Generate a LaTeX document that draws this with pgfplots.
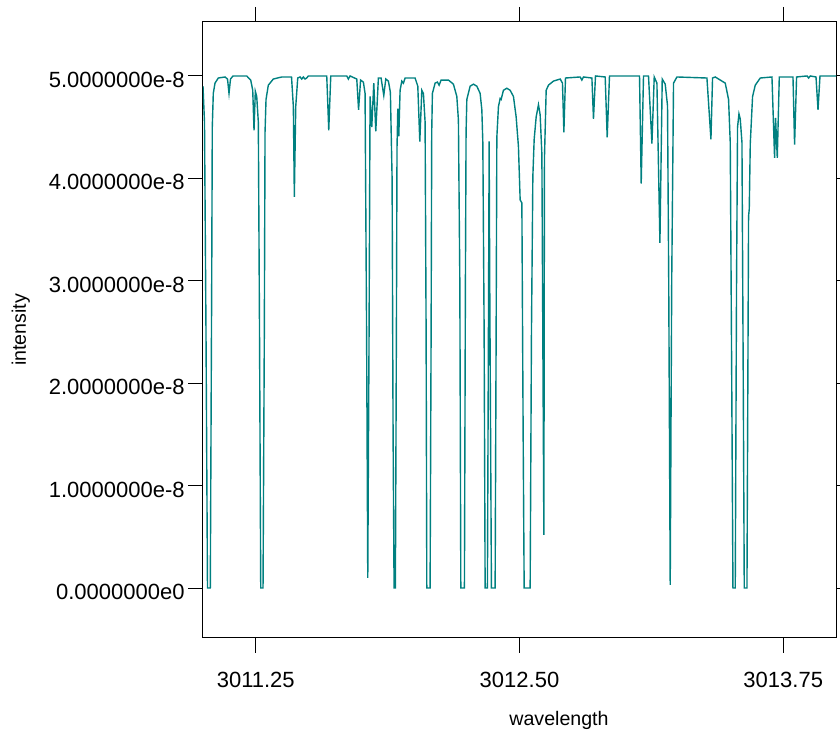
\documentclass[border=0pt]{standalone}
\usepackage{fontspec}
\setmainfont{Liberation Sans}
\usepackage{pgfplots}
\pgfplotsset{compat=1.18}
\definecolor{spec}{RGB}{0,128,128}
\begin{document}
\begin{tikzpicture}
\begin{axis}[
  scale only axis,
  width=316.5pt, height=308pt,
  xmin=3011, xmax=3014,
  ymin=-0.488e-8, ymax=5.527e-8,
  axis line style={black, line width=0.5pt},
  tick align=outside,
  major tick length=7.5pt,
  tick style={black, line width=0.5pt},
  xtick={3011.25,3012.5,3013.75},
  xticklabels={3011.25,3012.50,3013.75},
  ytick={0,1e-8,2e-8,3e-8,4e-8,5e-8},
  yticklabels={0.0000000e0,1.0000000e-8,2.0000000e-8,3.0000000e-8,4.0000000e-8,5.0000000e-8},
  scaled x ticks=false, scaled y ticks=false,
  xtick pos=both, ytick pos=both,
  xticklabel pos=lower, yticklabel pos=left,
  ticklabel style={font=\fontsize{11}{13}\selectfont},
  xticklabel style={anchor=base, yshift=-17.4pt},
  yticklabel style={anchor=east, inner sep=1.5pt, yshift=-2pt},
  xlabel={wavelength}, ylabel={intensity},
  label style={font=\fontsize{9.8}{12}\selectfont},
  xlabel style={at={(axis description cs:0.5624,-0.1424)}, anchor=base},
  ylabel style={at={(axis description cs:-0.288,0.5)}, anchor=center},
]
\addplot[spec, line width=0.7pt] table {
x y
3011.0000 4.90e-8
3011.0071 4.55e-8
3011.0142 2.50e-8
3011.0213 0
3011.0346 0
3011.0413 3.00e-8
3011.0440 4.50e-8
3011.0488 4.83e-8
3011.0569 4.93e-8
3011.0725 4.98e-8
3011.1043 4.99e-8
3011.1162 4.97e-8
3011.1233 4.83e-8
3011.1304 4.97e-8
3011.1422 5.00e-8
3011.2072 5.00e-8
3011.2262 4.96e-8
3011.2357 4.86e-8
3011.2418 4.47e-8
3011.2480 4.85e-8
3011.2546 4.80e-8
3011.2622 4.55e-8
3011.2679 2.50e-8
3011.2736 0
3011.2845 0
3011.2907 2.50e-8
3011.2940 4.45e-8
3011.2987 4.77e-8
3011.3096 4.91e-8
3011.3333 4.97e-8
3011.3732 4.99e-8
3011.4196 4.99e-8
3011.4282 4.70e-8
3011.4329 3.82e-8
3011.4395 4.70e-8
3011.4490 4.98e-8
3011.4599 4.99e-8
3011.4680 4.97e-8
3011.4756 4.99e-8
3011.4836 4.97e-8
3011.4917 4.98e-8
3011.4993 5.00e-8
3011.5865 5.00e-8
3011.5960 4.47e-8
3011.6055 5.00e-8
3011.6814 5.00e-8
3011.6890 4.97e-8
3011.6970 5.00e-8
3011.7288 4.97e-8
3011.7373 4.67e-8
3011.7468 4.96e-8
3011.7601 4.94e-8
3011.7681 4.83e-8
3011.7753 2.50e-8
3011.7809 0.10e-8
3011.7871 2.50e-8
3011.7918 4.80e-8
3011.7999 4.50e-8
3011.8094 4.93e-8
3011.8189 4.46e-8
3011.8312 4.98e-8
3011.8440 4.98e-8
3011.8568 4.81e-8
3011.8663 4.97e-8
3011.8786 4.95e-8
3011.8881 4.84e-8
3011.8962 4.00e-8
3011.9009 1.50e-8
3011.9056 0
3011.9118 0
3011.9166 2.50e-8
3011.9195 4.30e-8
3011.9232 4.68e-8
3011.9279 4.41e-8
3011.9341 4.86e-8
3011.9422 4.95e-8
3011.9497 4.93e-8
3011.9578 4.98e-8
3012.0052 4.98e-8
3012.0180 4.90e-8
3012.0275 4.36e-8
3012.0370 4.86e-8
3012.0446 4.83e-8
3012.0526 4.55e-8
3012.0574 2.50e-8
3012.0607 0
3012.0763 0
3012.0811 2.50e-8
3012.0840 4.45e-8
3012.0872 4.83e-8
3012.1001 4.93e-8
3012.1110 4.94e-8
3012.1190 4.91e-8
3012.1285 4.96e-8
3012.1631 4.96e-8
3012.1868 4.92e-8
3012.2029 4.80e-8
3012.2105 4.57e-8
3012.2172 3.00e-8
3012.2219 0
3012.2390 0
3012.2437 3.00e-8
3012.2468 4.45e-8
3012.2504 4.77e-8
3012.2660 4.90e-8
3012.2817 4.92e-8
3012.2978 4.90e-8
3012.3134 4.83e-8
3012.3215 4.67e-8
3012.3262 4.35e-8
3012.3324 2.50e-8
3012.3371 0
3012.3480 0
3012.3537 3.00e-8
3012.3561 4.36e-8
3012.3589 3.00e-8
3012.3670 0
3012.3845 0
3012.3893 2.50e-8
3012.3926 4.40e-8
3012.4002 4.70e-8
3012.4083 4.78e-8
3012.4130 4.77e-8
3012.4239 4.86e-8
3012.4400 4.88e-8
3012.4557 4.86e-8
3012.4713 4.80e-8
3012.4841 4.60e-8
3012.4950 4.31e-8
3012.5031 3.79e-8
3012.5112 3.76e-8
3012.5173 1.50e-8
3012.5221 0
3012.5505 0
3012.5567 2.50e-8
3012.5633 4.02e-8
3012.5695 4.38e-8
3012.5790 4.60e-8
3012.5899 4.72e-8
3012.5979 4.62e-8
3012.6060 4.24e-8
3012.6155 0.52e-8
3012.6183 4.20e-8
3012.6264 4.86e-8
3012.6373 4.91e-8
3012.6610 4.95e-8
3012.6928 4.97e-8
3012.7037 4.93e-8
3012.7103 4.45e-8
3012.7179 4.98e-8
3012.7876 4.99e-8
3012.7956 4.96e-8
3012.8032 4.99e-8
3012.8431 4.98e-8
3012.8506 4.58e-8
3012.8601 5.00e-8
3012.9061 4.99e-8
3012.9156 4.40e-8
3012.9265 5.00e-8
3013.0688 5.00e-8
3013.0768 3.95e-8
3013.0877 5.00e-8
3013.1114 5.00e-8
3013.1276 4.34e-8
3013.1385 4.99e-8
3013.1513 4.93e-8
3013.1655 3.37e-8
3013.1764 4.97e-8
3013.1906 4.92e-8
3013.2015 4.71e-8
3013.2072 3.00e-8
3013.2143 0.03e-8
3013.2214 3.00e-8
3013.2300 4.93e-8
3013.2461 4.99e-8
3013.3883 4.98e-8
3013.4073 4.38e-8
3013.4149 4.98e-8
3013.4277 4.99e-8
3013.4751 4.93e-8
3013.4908 4.77e-8
3013.4988 4.35e-8
3013.5059 2.00e-8
3013.5116 0
3013.5225 0
3013.5287 3.00e-8
3013.5334 4.50e-8
3013.5401 4.63e-8
3013.5462 4.58e-8
3013.5543 4.35e-8
3013.5605 2.00e-8
3013.5652 0
3013.5780 0
3013.5856 3.63e-8
3013.5889 3.70e-8
3013.5937 4.34e-8
3013.6046 4.80e-8
3013.6174 4.91e-8
3013.6411 4.98e-8
3013.6965 4.99e-8
3013.7089 4.20e-8
3013.7136 4.59e-8
3013.7217 4.20e-8
3013.7312 4.99e-8
3013.7961 4.99e-8
3013.8037 4.33e-8
3013.8132 4.99e-8
3013.8625 5.00e-8
3013.8701 4.98e-8
3013.8781 5.00e-8
3013.9052 4.99e-8
3013.9147 4.67e-8
3013.9241 5.00e-8
3014.0000 5.00e-8
};
\end{axis}
\pgfresetboundingbox
\useasboundingbox (-101.5pt,-46.75pt) rectangle (318.5pt,319pt);
\end{tikzpicture}
\end{document}
